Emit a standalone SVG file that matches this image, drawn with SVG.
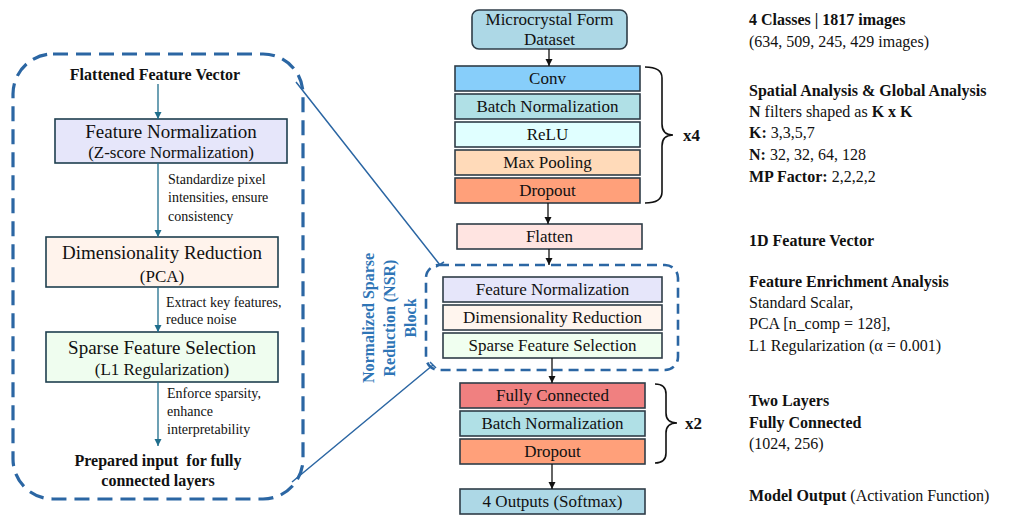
<svg xmlns="http://www.w3.org/2000/svg" width="1015" height="515" viewBox="0 0 1015 515" font-family="'Liberation Serif', 'DejaVu Serif', serif">
<style>
text, tspan{font-family:"Liberation Serif","DejaVu Serif",serif}
text{fill:#111}
.b{font-weight:bold}
.c{text-anchor:middle}
.box{stroke:#2f3d48;stroke-width:1.6}
.lbox{stroke:#1f3f4f;stroke-width:1.6}
.t17{font-size:17px}
.ann{font-size:14px}
.rt{font-size:16px}
.dash{fill:none;stroke:#2b66a3}
.arr{stroke:#111;stroke-width:1.3;fill:none;marker-end:url(#ah)}
.larr{stroke:#1f6e8c;stroke-width:1.3;fill:none;marker-end:url(#lah)}
.brace{fill:none;stroke:#111;stroke-width:1.6}
</style>
<defs>
<marker id="ah" markerWidth="8" markerHeight="8" refX="7" refY="4" orient="auto" markerUnits="userSpaceOnUse"><path d="M0,0.5 L7,4 L0,7.5 Z" fill="#111"/></marker>
<marker id="lah" markerWidth="8" markerHeight="8" refX="7" refY="4" orient="auto" markerUnits="userSpaceOnUse"><path d="M0,0.5 L7,4 L0,7.5 Z" fill="#1f6e8c"/></marker>
</defs>
<rect width="1015" height="515" fill="#fff"/>

<g id="left-panel">
<rect x="13" y="54" width="290" height="445" rx="40" class="dash" stroke-width="3.2" stroke-dasharray="15 8"/>
<text x="155" y="80" class="b c" font-size="16">Flattened Feature Vector</text>
</g>
<g id="l-featnorm">
<rect x="55" y="119" width="232" height="44" fill="#e6e6fa" class="lbox"/>
<text x="171" y="138" class="c" font-size="19">Feature Normalization</text>
<text x="171" y="158" class="c" font-size="17">(Z-score Normalization)</text>
</g>
<g id="l-dimred">
<rect x="46" y="237" width="232" height="50" fill="#fff3ec" class="lbox"/>
<text x="162" y="259" class="c" font-size="19">Dimensionality Reduction</text>
<text x="162" y="282" class="c" font-size="17">(PCA)</text>
</g>
<g id="l-sparse">
<rect x="46" y="332" width="232" height="50" fill="#effdef" class="lbox"/>
<text x="162" y="354" class="c" font-size="19">Sparse Feature Selection</text>
<text x="162" y="375" class="c" font-size="17">(L1 Regularization)</text>
</g>
<g id="l-prepared">
<text x="158" y="466" class="b c" font-size="16" style="white-space:pre">Prepared input  for fully</text>
<text x="158" y="486" class="b c" font-size="16">connected layers</text>
</g>
<g id="l-annotations">
<text x="168" y="184" class="ann">Standardize pixel</text>
<text x="168" y="202" class="ann">intensities, ensure</text>
<text x="168" y="221" class="ann">consistency</text>
<text x="166" y="307" class="ann">Extract key features,</text>
<text x="166" y="324" class="ann">reduce noise</text>
<text x="167" y="398" class="ann">Enforce sparsity,</text>
<text x="167" y="416" class="ann">enhance</text>
<text x="167" y="434" class="ann">interpretability</text>
</g>

<g id="dataset">
<rect x="472" y="10" width="155" height="39" rx="7" fill="#add8e6" class="box"/>
<text x="549.5" y="25" class="c t17">Microcrystal Form</text>
<text x="549.5" y="45" class="c t17">Dataset</text>
</g>
<g id="conv-block">
<rect x="455" y="66" width="185" height="25" fill="#87cefa" class="box"/>
<text x="547.5" y="84" class="c t17">Conv</text>
<rect x="455" y="94" width="185" height="25" fill="#b0e0e6" class="box"/>
<text x="547.5" y="112" class="c t17">Batch Normalization</text>
<rect x="455" y="122" width="185" height="25" fill="#e0ffff" class="box"/>
<text x="547.5" y="140" class="c t17">ReLU</text>
<rect x="455" y="150" width="185" height="25" fill="#ffdab9" class="box"/>
<text x="547.5" y="168" class="c t17">Max Pooling</text>
<rect x="455" y="178" width="185" height="25" fill="#ffa07a" class="box"/>
<text x="547.5" y="196" class="c t17">Dropout</text>
<path d="M645,67 Q662,67 662,78 L662,124 Q662,135 673,135 Q662,135 662,146 L662,192 Q662,203 645,203" class="brace"/>
<text x="683" y="141" class="b" font-size="17">x4</text>
</g>
<g id="flatten">
<rect x="457" y="224" width="185" height="25" fill="#ffe4e1" class="box"/>
<text x="549.5" y="242" class="c t17">Flatten</text>
</g>
<g id="nsr-block">
<rect x="426" y="265" width="252" height="105" rx="13" class="dash" stroke-width="2.6" stroke-dasharray="10 6"/>
<rect x="443" y="277" width="219" height="25" fill="#e6e6fa" class="box"/>
<text x="552.5" y="295" class="c t17">Feature Normalization</text>
<rect x="443" y="305" width="219" height="25" fill="#fff5ee" class="box"/>
<text x="552.5" y="323" class="c t17">Dimensionality Reduction</text>
<rect x="443" y="333" width="219" height="25" fill="#f0fff0" class="box"/>
<text x="552.5" y="351" class="c t17">Sparse Feature Selection</text>
<text transform="translate(374,318) rotate(-90)" class="b c" font-size="16" style="fill:#2e75b6"><tspan x="0" y="0">Normalized Sparse</tspan><tspan x="0" dy="21">Reduction (NSR)</tspan><tspan x="0" dy="21">Block</tspan></text>
</g>
<g id="fc-block">
<rect x="460" y="383" width="185" height="25" fill="#f08080" class="box"/>
<text x="552.5" y="401" class="c t17">Fully Connected</text>
<rect x="460" y="411" width="185" height="25" fill="#b0e0e6" class="box"/>
<text x="552.5" y="429" class="c t17">Batch Normalization</text>
<rect x="460" y="439" width="185" height="25" fill="#ffa07a" class="box"/>
<text x="552.5" y="457" class="c t17">Dropout</text>
<path d="M655,384 Q666,384 666,394 L666,413 Q666,423 677,423 Q666,423 666,433 L666,453 Q666,463 655,463" class="brace"/>
<text x="685" y="429" class="b" font-size="17">x2</text>
</g>
<g id="outputs">
<rect x="460" y="489" width="185" height="25" fill="#add8e6" class="box"/>
<text x="552.5" y="507" class="c t17">4 Outputs (Softmax)</text>
</g>

<g id="connectors">
<line x1="549" y1="49" x2="549" y2="66" class="arr"/>
<line x1="548" y1="203" x2="548" y2="224" class="arr"/>
<line x1="549" y1="249" x2="549" y2="265" class="arr"/>
<line x1="552" y1="358" x2="552" y2="383" class="arr"/>
<line x1="552" y1="464" x2="552" y2="489" class="arr"/>
<line x1="158" y1="84" x2="158" y2="119" class="larr"/>
<line x1="158" y1="163" x2="158" y2="237" class="larr"/>
<line x1="158" y1="287" x2="158" y2="332" class="larr"/>
<line x1="158" y1="382" x2="158" y2="446" class="larr"/>
<path d="M296,82 L440,265 M436,267 L444,262" stroke="#2b66a3" stroke-width="1.5" fill="none"/>
<path d="M292,482 L433,365 M430,362 L436,368" stroke="#2b66a3" stroke-width="1.5" fill="none"/>
</g>

<g id="notes">
<text x="749" y="25" class="rt b">4 Classes | 1817 images</text>
<text x="749" y="47" class="rt">(634, 509, 245, 429 images)</text>
<text x="749" y="96" class="rt b">Spatial Analysis &amp; Global Analysis</text>
<text x="749" y="117" class="rt"><tspan class="b">N</tspan> filters shaped as <tspan class="b">K x K</tspan></text>
<text x="749" y="138" class="rt"><tspan class="b">K:</tspan> 3,3,5,7</text>
<text x="749" y="160" class="rt"><tspan class="b">N:</tspan> 32, 32, 64, 128</text>
<text x="749" y="182" class="rt"><tspan class="b">MP Factor:</tspan> 2,2,2,2</text>
<text x="749" y="246" class="rt b">1D Feature Vector</text>
<text x="749" y="287" class="rt b">Feature Enrichment Analysis</text>
<text x="749" y="308" class="rt">Standard Scalar,</text>
<text x="749" y="329" class="rt">PCA [n_comp = 128],</text>
<text x="749" y="351" class="rt">L1 Regularization (α = 0.001)</text>
<text x="749" y="406" class="rt b">Two Layers</text>
<text x="749" y="428" class="rt b">Fully Connected</text>
<text x="749" y="449" class="rt">(1024, 256)</text>
<text x="749" y="501" class="rt"><tspan class="b">Model Output</tspan> (Activation Function)</text>
</g>
</svg>
